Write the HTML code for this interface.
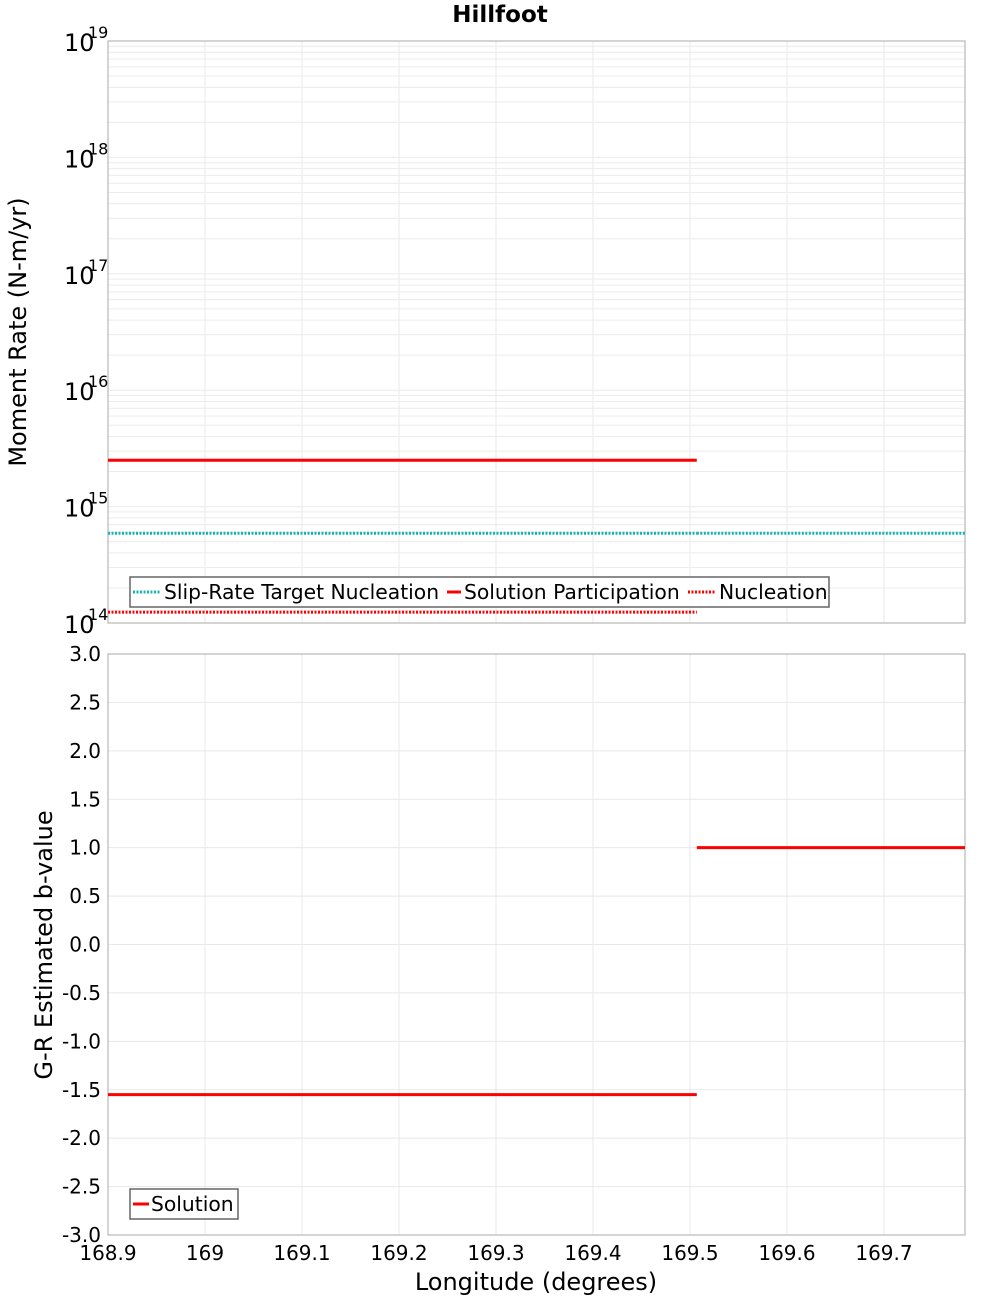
<!DOCTYPE html>
<html><head><meta charset="utf-8"><style>
body{margin:0;background:#fff;}
svg{display:block;font-family:"DejaVu Sans","Liberation Sans",sans-serif;}
</style></head><body>
<svg id="c" width="1000" height="1300"></svg>
<script>
const xTicks=[168.9,169,169.1,169.2,169.3,169.4,169.5,169.6,169.7];
const xTickLabels=["168.9","169","169.1","169.2","169.3","169.4","169.5","169.6","169.7"];
const logDecades=[14,15,16,17,18,19];
const bTicks=[-3,-2.5,-2,-1.5,-1,-0.5,0,0.5,1,1.5,2,2.5,3];
const segStart=[168.9,169.507];
const segEnd=[169.507,169.7835];
const targetNucleation=[5.9e14,5.9e14];
const solutionParticipation=[2.5e15,null];
const nucleation=[1.24e14,null];
const bValues=[-1.55,1.0];

const NS="http://www.w3.org/2000/svg";
const svg=document.getElementById('c');
const L=108,R=965,T1=41,B1=623,T2=654,B2=1235;
const X=v=>L+(v-168.9)/(169.7835-168.9)*(R-L);
const Y1=v=>B1-(Math.log10(v)-14)/5*(B1-T1);
const Y2=v=>B2-(v+3)/6*(B2-T2);
function mk(tag,attrs,parent){const e=document.createElementNS(NS,tag);for(const k in attrs)e.setAttribute(k,attrs[k]);(parent||svg).appendChild(e);return e;}
function txt(s,attrs){const e=mk('text',attrs);e.textContent=s;return e;}

const grid=mk('g',{});


xTicks.forEach(v=>{mk('line',{x1:X(v),x2:X(v),y1:T1,y2:B1,stroke:'#e8e8e8'},grid);mk('line',{x1:X(v),x2:X(v),y1:T2,y2:B2,stroke:'#e8e8e8'},grid);});
for(let d=14;d<19;d++){for(let m=1;m<10;m++){const y=Y1(m*Math.pow(10,d));mk('line',{x1:L,x2:R,y1:y,y2:y,stroke:'#ececec'},grid);}}
bTicks.forEach(v=>mk('line',{x1:L,x2:R,y1:Y2(v),y2:Y2(v),stroke:'#e8e8e8'},grid));

const f1=mk('rect',{x:L,y:T1,width:R-L,height:B1-T1,fill:'none',stroke:'#aaa'});


const f2=mk('rect',{x:L,y:T2,width:R-L,height:B2-T2,fill:'none',stroke:'#aaa'});



const t=txt('Hillfoot',{x:500,y:22,'text-anchor':'middle','font-size':23,'font-weight':'bold'});



logDecades.forEach(d=>{
 const y=Y1(Math.pow(10,d));
 const e=txt('10',{x:64,y:y+10,'font-size':24});
 
 
 const s=txt(String(d),{x:88,y:y-3,'font-size':16});
 
 
});
bTicks.forEach(v=>{
 const e=txt(v.toFixed(1),{x:101,y:Y2(v)+7,'text-anchor':'end','font-size':20});
 
 
});
xTicks.forEach((v,i)=>{
 const e=txt(xTickLabels[i],{x:X(v),y:1260,'text-anchor':'middle','font-size':20});
 
 
});
const yt1=txt('Moment Rate (N-m/yr)',{transform:'translate(26,332) rotate(-90)','text-anchor':'middle','font-size':24});


const yt2=txt('G-R Estimated b-value',{transform:'translate(52,945) rotate(-90)','text-anchor':'middle','font-size':24});


const xt=txt('Longitude (degrees)',{x:536,y:1290,'text-anchor':'middle','font-size':24});



segStart.forEach((s,i)=>{
 if(targetNucleation[i]!=null){const l=mk('line',{x1:X(s),x2:X(segEnd[i]),y1:Y1(targetNucleation[i]),y2:Y1(targetNucleation[i]),stroke:'#14b4b4','stroke-width':3,'stroke-dasharray':'2,1.5'});
  
  }
 if(solutionParticipation[i]!=null){const l=mk('line',{x1:X(s),x2:X(segEnd[i]),y1:Y1(solutionParticipation[i]),y2:Y1(solutionParticipation[i]),stroke:'#f00','stroke-width':3});
  
  }
 if(nucleation[i]!=null){const l=mk('line',{x1:X(s),x2:X(segEnd[i]),y1:Y1(nucleation[i]),y2:Y1(nucleation[i]),stroke:'#f00','stroke-width':3,'stroke-dasharray':'2,1.5'});
  
  }
 const b=mk('line',{x1:X(s),x2:X(segEnd[i]),y1:Y2(bValues[i]),y2:Y2(bValues[i]),stroke:'#f00','stroke-width':3});
 
 
});

const lg=mk('g',{});


mk('rect',{x:130,y:577,width:699,height:30,fill:'#fff',stroke:'#666','stroke-width':1.5},lg);
mk('line',{x1:133,x2:160,y1:592,y2:592,stroke:'#14b4b4','stroke-width':3,'stroke-dasharray':'2,1.5'},lg);
const a=txt('Slip-Rate Target Nucleation',{x:164,y:599,'font-size':20.3});lg.appendChild(a);


mk('line',{x1:447,x2:461,y1:592,y2:592,stroke:'#f00','stroke-width':3},lg);
const b2=txt('Solution Participation',{x:464,y:599,'font-size':20.3});lg.appendChild(b2);


mk('line',{x1:688,x2:716,y1:592,y2:592,stroke:'#f00','stroke-width':3,'stroke-dasharray':'2,1.5'},lg);
const c=txt('Nucleation',{x:719,y:599,'font-size':20.3});lg.appendChild(c);



const lg2=mk('g',{});


mk('rect',{x:130,y:1189,width:108,height:30,fill:'#fff',stroke:'#666','stroke-width':1.5},lg2);
mk('line',{x1:133,x2:149,y1:1204,y2:1204,stroke:'#f00','stroke-width':3},lg2);
const d=txt('Solution',{x:151,y:1211,'font-size':20.3});lg2.appendChild(d);


</script>
</body></html>
